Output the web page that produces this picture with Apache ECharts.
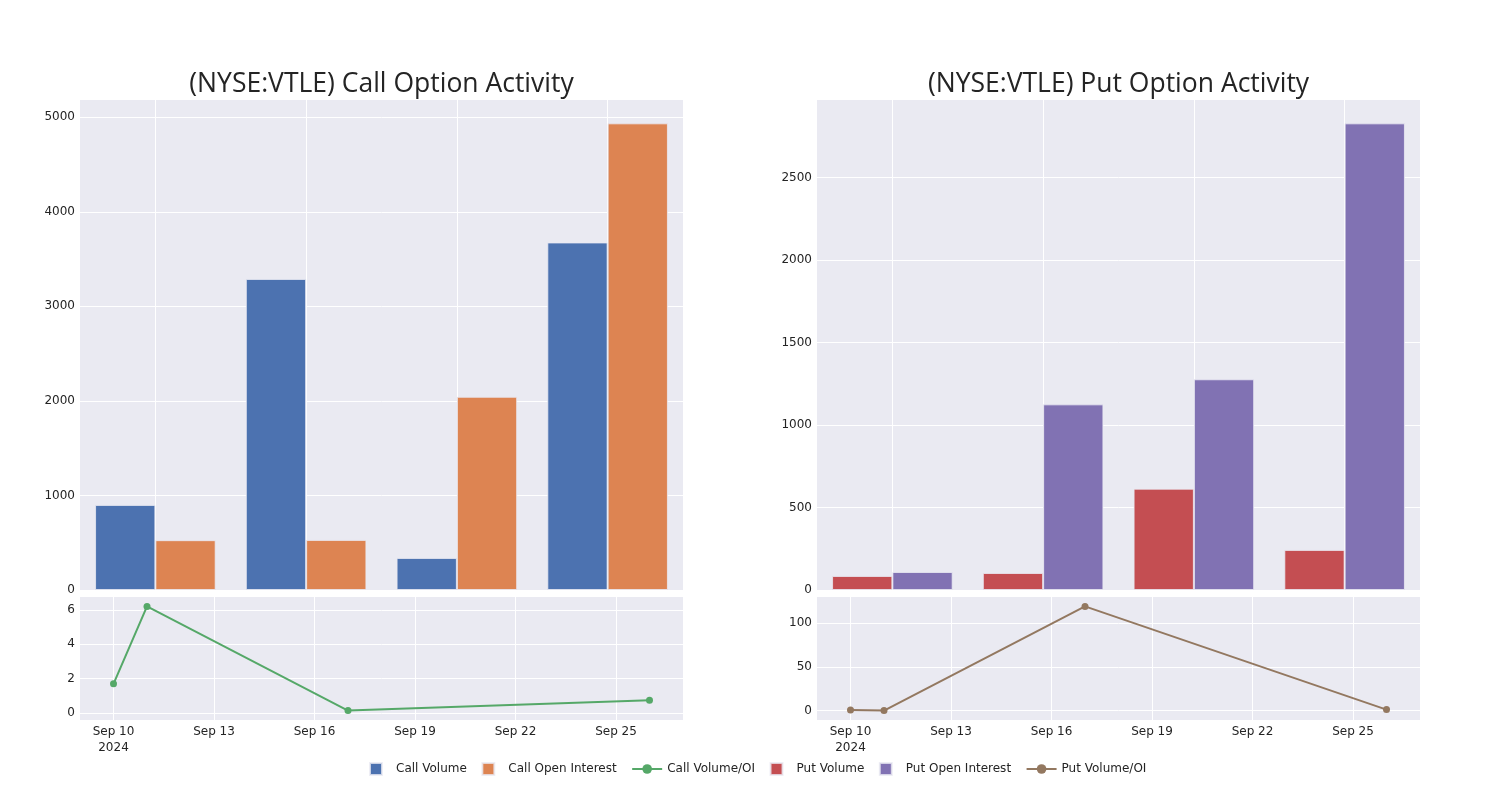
<!DOCTYPE html>
<html>
<head>
<meta charset="utf-8">
<script src="https://cdn.jsdelivr.net/npm/echarts@6/dist/echarts.min.js"></script>
<style>html,body{margin:0;padding:0;background:#fff}#chart{width:1500px;height:800px}</style>
</head>
<body>
<div id="chart"></div>
<script>
// ---- data ----
const categories = ['2024-09-10', '2024-09-11', '2024-09-17', '2024-09-26'];
const callVolume = [900, 3290, 339, 3676];
const callOpenInterest = [527, 530, 2044, 4936];
const callRatio = [1.7, 6.2, 0.14, 0.74];
const putVolume = [85, 103, 614, 243];
const putOpenInterest = [109, 1125, 1277, 2828];
const putRatio = [0.8, 0.05, 118.8, 1.2];
const callBarTicks = [0, 1000, 2000, 3000, 4000, 5000];
const putBarTicks = [0, 500, 1000, 1500, 2000, 2500];
const callRatioTicks = [0, 2, 4, 6];
const putRatioTicks = [0, 50, 100];
const dateTicks = ['2024-09-10', '2024-09-13', '2024-09-16', '2024-09-19', '2024-09-22', '2024-09-25'];
const titles = ['(NYSE:VTLE) Call Option Activity', '(NYSE:VTLE) Put Option Activity'];

// ---- helpers ----
const DAY = 86400000;
const ts = s => Date.parse(s + 'T00:00:00Z');
const MONTHS = ['Jan','Feb','Mar','Apr','May','Jun','Jul','Aug','Sep','Oct','Nov','Dec'];
const dateTickVals = dateTicks.map(ts);
const fmtDate = v => {
  const d = new Date(v);
  let s = MONTHS[d.getUTCMonth()] + ' ' + d.getUTCDate();
  if (Math.abs(v - dateTickVals[0]) < 1000) s += '\n' + d.getUTCFullYear();
  return s;
};
const pairs = arr => categories.map((c, i) => [ts(c), arr[i]]);
const padRange = arr => {
  const mn = Math.min(...arr), mx = Math.max(...arr), p = (mx - mn) * 0.09;
  return [mn - p, mx + p];
};

const BG = '#EAEAF2';
const TXT = 'rgb(36,36,36)';
const FONT = 'DejaVu Sans';
const colors = {
  callVol: '#4C72B0', callOI: '#DD8452', callRatio: '#55A868',
  putVol: '#C44E52', putOI: '#8172B3', putRatio: '#937860'
};

const L1 = 80, L2 = 817, W = 603, TOP = 100, H1 = 490, TOP2 = 597, H2 = 123;

const grids = [
  { left: L1, top: TOP, width: W, height: H1 },
  { left: L1, top: TOP2, width: W, height: H2 },
  { left: L2, top: TOP, width: W, height: H1 },
  { left: L2, top: TOP2, width: W, height: H2 }
].map(g => Object.assign({ backgroundColor: BG, show: true, borderWidth: 0, containLabel: false }, g));

const splitLine = { show: true, lineStyle: { color: '#fff', width: 1 } };

function catAxis(gi) {
  return { type: 'category', gridIndex: gi, data: categories, boundaryGap: true,
    axisLine: { show: false }, axisTick: { show: false }, axisLabel: { show: false }, splitLine: { show: false } };
}
function catGridAxis(gi) {
  const idx = categories.map((c, i) => i);
  return { type: 'value', gridIndex: gi, min: -0.5, max: categories.length - 0.5,
    axisLine: { show: false }, axisTick: { show: false, customValues: idx },
    axisLabel: { show: false, customValues: idx }, splitLine };
}
function dateAxis(gi) {
  const first = ts(categories[0]), last = ts(categories[categories.length - 1]);
  return { type: 'value', gridIndex: gi, min: first - DAY, max: last + DAY, scale: true,
    axisLine: { show: false }, axisTick: { show: false, customValues: dateTickVals },
    axisLabel: { customValues: dateTickVals, formatter: fmtDate, color: TXT, fontFamily: FONT, fontSize: 12, margin: 4, lineHeight: 16 },
    splitLine };
}
function valAxis(gi, ticks, min, max) {
  return { type: 'value', gridIndex: gi, min, max,
    axisLine: { show: false }, axisTick: { show: false, customValues: ticks },
    axisLabel: { customValues: ticks, formatter: v => String(v), color: TXT, fontFamily: FONT, fontSize: 12, margin: 5 },
    splitLine };
}

const callMax = Math.max(...callVolume, ...callOpenInterest) * 1.05;
const putMax = Math.max(...putVolume, ...putOpenInterest) * 1.05;
const cr = padRange(callRatio), pr = padRange(putRatio);

const barStyle = c => ({ color: c, borderColor: 'rgba(234,234,242,0.8)', borderWidth: 1 });
const sq = 'path://M0,0L10,0L10,10L0,10Z';

const option = {
  animation: false,
  title: titles.map((t, i) => ({
    text: t, left: (i === 0 ? L1 : L2) + W / 2 - 5, top: 66, textAlign: 'center',
    textStyle: { fontFamily: 'Open Sans', fontSize: 26.5, fontWeight: 'normal', color: TXT }
  })),
  legend: {
    bottom: 19, left: 364, itemWidth: 30, itemHeight: 12, itemGap: 14.5,
    textStyle: { fontFamily: FONT, fontSize: 12, color: TXT },
    data: [
      { name: 'Call Volume', icon: sq },
      { name: 'Call Open Interest', icon: sq },
      { name: 'Call Volume/OI' },
      { name: 'Put Volume', icon: sq },
      { name: 'Put Open Interest', icon: sq },
      { name: 'Put Volume/OI' }
    ]
  },
  grid: grids,
  xAxis: [catAxis(0), dateAxis(1), catAxis(2), dateAxis(3), catGridAxis(0), catGridAxis(2)],
  yAxis: [
    valAxis(0, callBarTicks, 0, callMax),
    valAxis(1, callRatioTicks, cr[0], cr[1]),
    valAxis(2, putBarTicks, 0, putMax),
    valAxis(3, putRatioTicks, pr[0], pr[1])
  ],
  series: [
    { name: 'Call Volume', type: 'bar', xAxisIndex: 0, yAxisIndex: 0, data: callVolume,
      barGap: '0%', barCategoryGap: '20%', itemStyle: barStyle(colors.callVol) },
    { name: 'Call Open Interest', type: 'bar', xAxisIndex: 0, yAxisIndex: 0, data: callOpenInterest,
      barGap: '0%', barCategoryGap: '20%', itemStyle: barStyle(colors.callOI) },
    { name: 'Call Volume/OI', type: 'line', xAxisIndex: 1, yAxisIndex: 1, data: pairs(callRatio),
      symbol: 'circle', symbolSize: 7, color: colors.callRatio,
      lineStyle: { width: 2, color: colors.callRatio }, itemStyle: { color: colors.callRatio } },
    { name: 'Put Volume', type: 'bar', xAxisIndex: 2, yAxisIndex: 2, data: putVolume,
      barGap: '0%', barCategoryGap: '20%', itemStyle: barStyle(colors.putVol) },
    { name: 'Put Open Interest', type: 'bar', xAxisIndex: 2, yAxisIndex: 2, data: putOpenInterest,
      barGap: '0%', barCategoryGap: '20%', itemStyle: barStyle(colors.putOI) },
    { name: 'Put Volume/OI', type: 'line', xAxisIndex: 3, yAxisIndex: 3, data: pairs(putRatio),
      symbol: 'circle', symbolSize: 7, color: colors.putRatio,
      lineStyle: { width: 2, color: colors.putRatio }, itemStyle: { color: colors.putRatio } }
  ]
};

const chart = echarts.init(document.getElementById('chart'), null, { renderer: 'canvas' });
chart.setOption(option);
</script>
</body>
</html>
